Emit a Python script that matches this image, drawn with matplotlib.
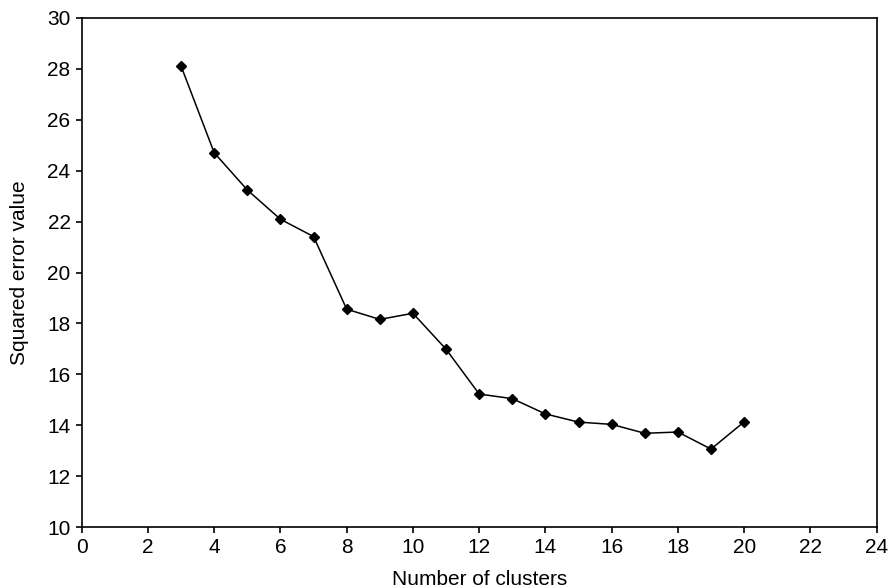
import matplotlib
matplotlib.use("Agg")
import matplotlib.pyplot as plt

plt.rcParams['font.family'] = ['Liberation Sans', 'DejaVu Sans']

clusters = [3, 4, 5, 6, 7, 8, 9, 10, 11, 12, 13, 14, 15, 16, 17, 18, 19, 20]
sq_error = [28.1, 24.7, 23.24, 22.09, 21.41, 18.56, 18.16, 18.4, 16.99, 15.23,
            15.05, 14.45, 14.13, 14.04, 13.69, 13.74, 13.07, 14.14]

xticks = list(range(0, 25, 2))
yticks = list(range(10, 31, 2))

fig = plt.figure(figsize=(8.9, 5.88), dpi=100)
ax = fig.add_axes([0.0918, 0.1032, 0.8932, 0.8667])

ax.plot(clusters, sq_error, color='black', linewidth=1.1,
        marker='D', markersize=5, markerfacecolor='black', markeredgecolor='black')

ax.set_xlim(0, 24)
ax.set_ylim(10, 30)
ax.set_xticks(xticks)
ax.set_yticks(yticks)
ax.tick_params(direction='out', length=4, width=1.2, labelsize=15, colors='black', pad=4)
for s in ax.spines.values():
    s.set_linewidth(1.2)

ax.set_xlabel("Number of clusters", fontsize=15, labelpad=9)
ax.set_ylabel("Squared error value", fontsize=15, labelpad=13)

fig.savefig("out.png", dpi=100)
